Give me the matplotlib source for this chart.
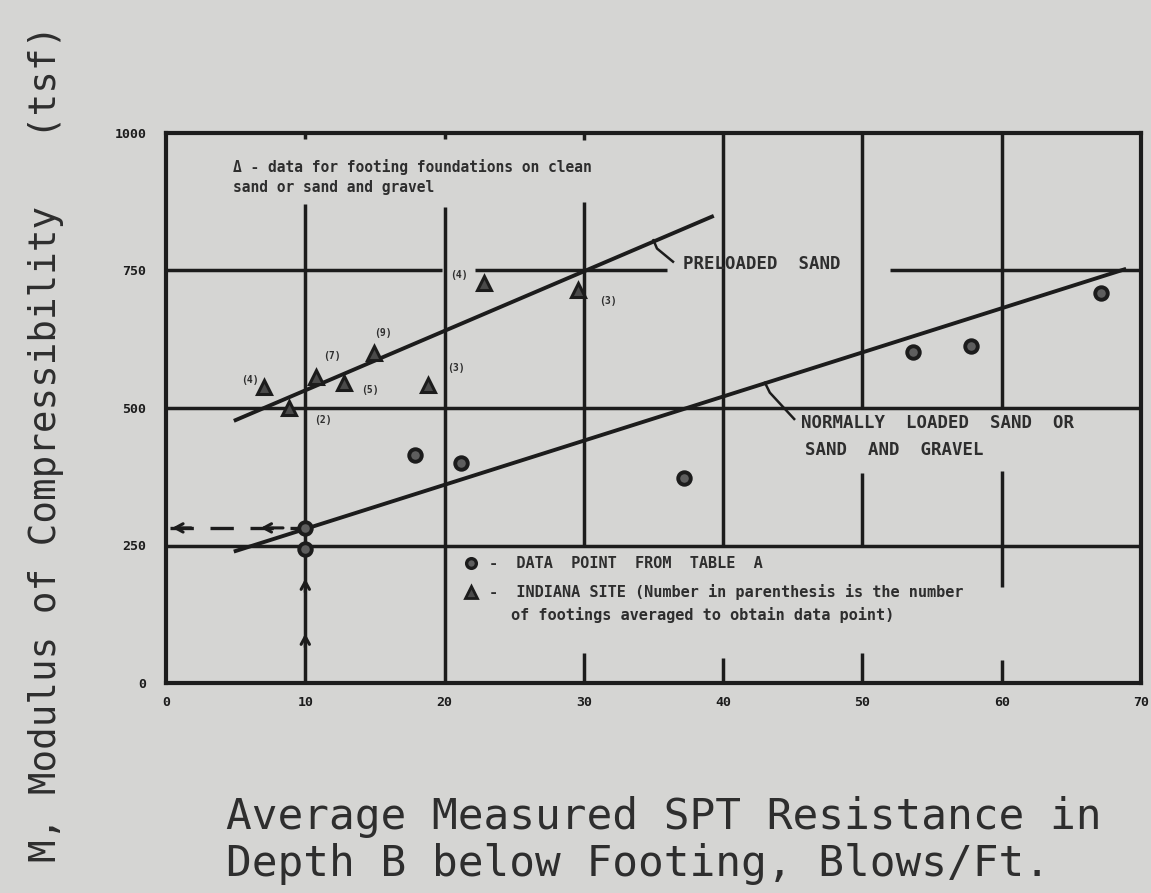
import matplotlib.pyplot as plt

# ---- data -------------------------------------------------------------
# Table data points (SPT blows/ft, modulus M in tsf)
table_spt = [10, 10, 17.9, 21.2, 37.2, 53.6, 57.8, 67.1]
table_m = [282, 243, 415, 400, 373, 602, 612, 709]

# Indiana site points with number of footings averaged
indiana_spt = [7.0, 8.8, 10.8, 12.8, 14.9, 18.8, 22.8, 29.6]
indiana_m = [538, 500, 556, 545, 600, 542, 727, 714]
indiana_n = [4, 2, 7, 5, 9, 3, 4, 3]

# Design lines
preloaded_spt = [5.0, 39.2]
preloaded_m = [478, 848]
normal_spt = [5.0, 68.8]
normal_m = [240, 752]

# Worked example: N = 10 read across to M
example_n = 10
example_m = 282

x_ticks = [0, 10, 20, 30, 40, 50, 60, 70]
y_ticks = [0, 250, 500, 750, 1000]

# ---- styling ----------------------------------------------------------
BG = "#d5d5d3"
INK = "#1c1c1c"
TXT = "#2e2e2e"
MONO = "DejaVu Sans Mono"

fig = plt.figure(figsize=(11.51, 8.93), dpi=100, facecolor=BG)
ax = fig.add_axes([166 / 1151, 1 - 683 / 893, (1141 - 166) / 1151, (683 - 133) / 893])
ax.set_facecolor(BG)
ax.set_xlim(0, 70)
ax.set_ylim(0, 1000)

for s in ax.spines.values():
    s.set_linewidth(3.0)
    s.set_color(INK)

ax.set_xticks(x_ticks)
ax.set_yticks(y_ticks)
ax.tick_params(length=0, colors=INK, labelsize=9.5, pad=9)
ax.tick_params(axis="y", pad=14)
for lab in ax.get_xticklabels() + ax.get_yticklabels():
    lab.set_fontweight("bold")
    lab.set_family(MONO)

# ---- grid (drawn as broken segments around the lettering) -------------
gw = 2.5
h_segments = [
    (250, 0, 70),
    (500, 0, 70),
    (750, 0, 19.8), (750, 22.2, 36.0), (750, 52.0, 70),
]
v_segments = [
    (10, 0, 870), (20, 0, 866), (30, 250, 875), (30, 0, 55),
    (40, 250, 1000), (40, 0, 45), (50, 500, 1000), (50, 250, 382),
    (50, 0, 55), (60, 500, 1000), (60, 175, 385), (60, 0, 42),
    (30, 988, 1000), (20, 990, 1000), (10, 990, 1000),
]
for y, x0, x1 in h_segments:
    ax.plot([x0, x1], [y, y], color=INK, lw=gw, solid_capstyle="butt", zorder=2)
for x, y0, y1 in v_segments:
    ax.plot([x, x], [y0, y1], color=INK, lw=gw, solid_capstyle="butt", zorder=2)

# ---- design lines -----------------------------------------------------
ax.plot(preloaded_spt, preloaded_m, color=INK, lw=2.8, zorder=3)
ax.plot(normal_spt, normal_m, color=INK, lw=2.8, zorder=3)

# ---- worked example arrows -------------------------------------------
ax.plot([0.3, example_n], [example_m, example_m], color=INK, lw=2.4,
        dashes=(7, 5), zorder=3)
arrow_kw = dict(arrowstyle="->,head_length=0.55,head_width=0.3", color=INK, lw=2.2)
ax.annotate("", xy=(example_n, 195), xytext=(example_n, 160), arrowprops=arrow_kw, zorder=4)
ax.annotate("", xy=(example_n, 95), xytext=(example_n, 60), arrowprops=arrow_kw, zorder=4)
ax.annotate("", xy=(6.6, example_m), xytext=(8.6, example_m), arrowprops=arrow_kw, zorder=4)
ax.annotate("", xy=(0.25, example_m), xytext=(2.0, example_m), arrowprops=arrow_kw, zorder=4)

# ---- data points ------------------------------------------------------
ax.plot(table_spt, table_m, "o", ms=9, mfc="#5e5e5e", mec=INK, mew=2.8,
        ls="none", zorder=5)
ax.plot(indiana_spt, indiana_m, "^", ms=10, mfc="#4a4a4a", mec=INK, mew=2.2,
        ls="none", zorder=5)

label_offsets = [(-14, 7), (34, -12), (16, 21), (26, -7),
                 (9, 20), (28, 17), (-25, 8), (30, -11)]
for x, y, n, (dx, dy) in zip(indiana_spt, indiana_m, indiana_n, label_offsets):
    ax.annotate(f"({n})", (x, y), xytext=(dx, dy), textcoords="offset pixels",
                ha="center", va="center", fontsize=7, fontweight="bold",
                family=MONO, color=TXT, zorder=6)

# ---- leaders and line names ------------------------------------------
ax.plot([35.0, 35.25, 36.4], [805, 790, 766], color=INK, lw=1.8, zorder=4)
ax.text(37.1, 762, "PRELOADED  SAND", fontsize=12.5, fontweight="bold",
        family=MONO, color=TXT, va="center", ha="left", zorder=6)

ax.plot([43.0, 43.35, 45.1], [546, 528, 480], color=INK, lw=1.8, zorder=4)
ax.text(45.6, 473, "NORMALLY  LOADED  SAND  OR", fontsize=12.5, fontweight="bold",
        family=MONO, color=TXT, va="center", ha="left", zorder=6)
ax.text(45.9, 424, "SAND  AND  GRAVEL", fontsize=12.5, fontweight="bold",
        family=MONO, color=TXT, va="center", ha="left", zorder=6)

# ---- notes and key ----------------------------------------------------
ax.text(4.8, 938, "\u0394 - data for footing foundations on clean", fontsize=10.5,
        fontweight="bold", family=MONO, color=TXT, va="center", ha="left")
ax.text(4.8, 900, "sand or sand and gravel", fontsize=10.5,
        fontweight="bold", family=MONO, color=TXT, va="center", ha="left")

ax.plot([21.9], [218], "o", ms=7, mfc="#5e5e5e", mec=INK, mew=2.4, zorder=5)
ax.text(23.2, 218, "-  DATA  POINT  FROM  TABLE  A", fontsize=11, fontweight="bold",
        family=MONO, color=TXT, va="center", ha="left")
ax.plot([21.9], [165], "^", ms=8, mfc="#4a4a4a", mec=INK, mew=2.0, zorder=5)
ax.text(23.2, 165, "-  INDIANA SITE (Number in parenthesis is the number",
        fontsize=11, fontweight="bold", family=MONO, color=TXT,
        va="center", ha="left")
ax.text(24.8, 124, "of footings averaged to obtain data point)",
        fontsize=11, fontweight="bold", family=MONO, color=TXT,
        va="center", ha="left")

# ---- axis titles ------------------------------------------------------
fig.text(0.040, 0.503, "M, Modulus of Compressibility   (tsf)", rotation=90,
         ha="center", va="center", fontsize=27, family=MONO, color=TXT)
fig.text(226 / 1151, 1 - 796 / 893,
         "Average Measured SPT Resistance in\nDepth B below Footing, Blows/Ft.",
         ha="left", va="top", fontsize=30.8, family=MONO, color=TXT,
         linespacing=1.15)

fig.savefig("out.png", dpi=100, facecolor=BG)
